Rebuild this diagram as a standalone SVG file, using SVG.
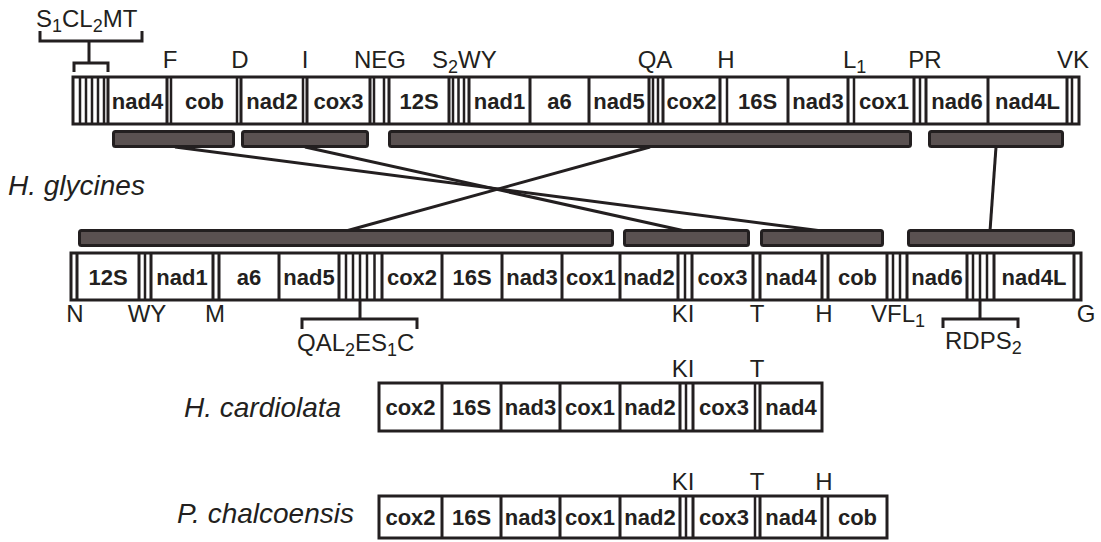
<svg xmlns="http://www.w3.org/2000/svg" width="1101" height="542" viewBox="0 0 1101 542">
<style>
.box{fill:#fff;stroke:#231f20;stroke-width:3}
.dv{stroke:#231f20;stroke-width:3;fill:none}
.tr{stroke:#231f20;stroke-width:2.5;fill:none}
.bar{fill:#5a5151;stroke:#231f20;stroke-width:3}
.conn{stroke:#231f20;stroke-width:3;fill:none}
.brk{stroke:#231f20;stroke-width:3;fill:none}
.g{font-family:"Liberation Sans",Arial,sans-serif;font-weight:bold;font-size:22px;fill:#231f20;text-anchor:middle}
.l{font-family:"Liberation Sans",Arial,sans-serif;font-size:24px;fill:#231f20}
.c{text-anchor:middle}
.sp{font-family:"Liberation Sans",Arial,sans-serif;font-style:italic;font-size:28px;fill:#231f20}
.sub{font-size:18px}
</style>
<rect width="1101" height="542" fill="#fff"/>

<!-- Top row: H. glycines reference order -->
<g id="row-top">
<rect class="box" x="73" y="77" width="1006" height="47"/>
<path class="tr" d="M80 77V124M86 77V124M92 77V124M98 77V124M104 77V124M171 77V124M237 77V124M303 77V124M374 77V124M384 77V124M453 77V124M458.5 77V124M464 77V124M653 77V124M658 77V124M727 77V124M854 77V124M920 77V124M1072 77V124"/>
<path class="dv" d="M108 77V124M167 77V124M241 77V124M307 77V124M370 77V124M389 77V124M449 77V124M469 77V124M530 77V124M589 77V124M649 77V124M663 77V124M720 77V124M788 77V124M848 77V124M914 77V124M926 77V124M988 77V124M1067 77V124"/>
<text class="g" x="137.5" y="109">nad4</text>
<text class="g" x="204.5" y="109">cob</text>
<text class="g" x="272" y="109">nad2</text>
<text class="g" x="338.5" y="109">cox3</text>
<text class="g" x="419" y="109">12S</text>
<text class="g" x="499.5" y="109">nad1</text>
<text class="g" x="559.5" y="109">a6</text>
<text class="g" x="619" y="109">nad5</text>
<text class="g" x="691.5" y="109">cox2</text>
<text class="g" x="757.5" y="109">16S</text>
<text class="g" x="818" y="109">nad3</text>
<text class="g" x="884" y="109">cox1</text>
<text class="g" x="957" y="109">nad6</text>
<text class="g" x="1027.5" y="109">nad4L</text>
</g>

<g id="labels-top">
<text class="l" x="36" y="27">S<tspan class="sub" dy="5">1</tspan><tspan dy="-5">CL</tspan><tspan class="sub" dy="5">2</tspan><tspan dy="-5">MT</tspan></text>
<path class="brk" d="M40 31V41H142V31M89 41V63M74 72V63H108V72"/>
<text class="l c" x="170" y="68">F</text>
<text class="l c" x="240" y="68">D</text>
<text class="l c" x="305" y="68">I</text>
<text class="l c" x="380" y="68">NEG</text>
<text class="l" x="432" y="68">S<tspan class="sub" dy="5">2</tspan><tspan dy="-5">WY</tspan></text>
<text class="l c" x="655" y="68">QA</text>
<text class="l c" x="726" y="68">H</text>
<text class="l" x="843" y="68">L<tspan class="sub" dy="5">1</tspan></text>
<text class="l c" x="925" y="68">PR</text>
<text class="l c" x="1073" y="68">VK</text>
</g>

<g id="blocks-top">
<rect class="bar" x="113.5" y="131.5" width="120" height="15" rx="2"/>
<rect class="bar" x="242.5" y="131.5" width="125" height="15" rx="2"/>
<rect class="bar" x="389.5" y="131.5" width="521" height="15" rx="2"/>
<rect class="bar" x="929.5" y="131.5" width="133" height="15" rx="2"/>
</g>

<text id="label-hglycines" class="sp" x="8" y="195">H. glycines</text>

<g id="connectors">
<line class="conn" x1="175" y1="147" x2="822" y2="231"/>
<line class="conn" x1="305" y1="147" x2="685" y2="231"/>
<line class="conn" x1="650" y1="147" x2="346" y2="231"/>
<line class="conn" x1="996" y1="147" x2="990" y2="231"/>
</g>

<g id="blocks-bottom">
<rect class="bar" x="79.5" y="230.5" width="533" height="15" rx="2"/>
<rect class="bar" x="624.5" y="230.5" width="124" height="15" rx="2"/>
<rect class="bar" x="761.5" y="230.5" width="121" height="15" rx="2"/>
<rect class="bar" x="908.5" y="230.5" width="165" height="15" rx="2"/>
</g>

<!-- Bottom row: H. glycines -->
<g id="row-bottom">
<rect class="box" x="71" y="253" width="1010" height="47"/>
<path class="tr" d="M145 253V300M346 253V300M353 253V300M360 253V300M367 253V300M374.5 253V300M685 253V300M893 253V300M900 253V300M973 253V300M980 253V300M987 253V300"/>
<path class="dv" d="M77 253V300M139 253V300M151 253V300M213 253V300M219 253V300M279 253V300M339 253V300M382 253V300M442 253V300M502 253V300M562 253V300M620 253V300M678 253V300M692 253V300M753 253V300M760 253V300M822 253V300M828 253V300M887 253V300M907 253V300M967 253V300M994 253V300M1074 253V300"/>
<text class="g" x="108" y="285">12S</text>
<text class="g" x="182" y="285">nad1</text>
<text class="g" x="249" y="285">a6</text>
<text class="g" x="309" y="285">nad5</text>
<text class="g" x="412" y="285">cox2</text>
<text class="g" x="472" y="285">16S</text>
<text class="g" x="532" y="285">nad3</text>
<text class="g" x="591" y="285">cox1</text>
<text class="g" x="649" y="285">nad2</text>
<text class="g" x="722.5" y="285">cox3</text>
<text class="g" x="791" y="285">nad4</text>
<text class="g" x="857.5" y="285">cob</text>
<text class="g" x="937" y="285">nad6</text>
<text class="g" x="1034" y="285">nad4L</text>
</g>

<g id="labels-bottom">
<text class="l c" x="75" y="322">N</text>
<text class="l c" x="147" y="322">WY</text>
<text class="l c" x="215" y="322">M</text>
<text class="l c" x="683" y="322">KI</text>
<text class="l c" x="757" y="322">T</text>
<text class="l c" x="824" y="322">H</text>
<text class="l" x="871" y="322">VFL<tspan class="sub" dy="5">1</tspan></text>
<text class="l c" x="1086" y="322">G</text>
<path class="brk" d="M360 300V319M302 329V319H417V329"/>
<text class="l" x="297" y="351">QAL<tspan class="sub" dy="5">2</tspan><tspan dy="-5">ES</tspan><tspan class="sub" dy="5">1</tspan><tspan dy="-5">C</tspan></text>
<path class="brk" d="M980 300V319M943 328V319H1018V328"/>
<text class="l" x="945" y="349">RDPS<tspan class="sub" dy="5">2</tspan></text>
</g>

<!-- H. cardiolata -->
<text id="label-hcardiolata" class="sp" x="184" y="417">H. cardiolata</text>
<g id="row-hcardiolata">
<rect class="box" x="379" y="383" width="443" height="48"/>
<path class="tr" d="M686 383V431M755 383V431"/>
<path class="dv" d="M442 383V431M501 383V431M560 383V431M620 383V431M680 383V431M693 383V431M760 383V431"/>
<text class="g" x="410.5" y="415">cox2</text>
<text class="g" x="471.5" y="415">16S</text>
<text class="g" x="530.5" y="415">nad3</text>
<text class="g" x="590" y="415">cox1</text>
<text class="g" x="650" y="415">nad2</text>
<text class="g" x="724" y="415">cox3</text>
<text class="g" x="791" y="415">nad4</text>
<text class="l c" x="683" y="377">KI</text>
<text class="l c" x="757" y="377">T</text>
</g>

<!-- P. chalcoensis -->
<text id="label-pchalcoensis" class="sp" x="177" y="523">P. chalcoensis</text>
<g id="row-pchalcoensis">
<rect class="box" x="379" y="496" width="508" height="42"/>
<path class="tr" d="M686 496V538M755 496V538M828 496V538"/>
<path class="dv" d="M442 496V538M501 496V538M560 496V538M620 496V538M680 496V538M693 496V538M760 496V538M822 496V538"/>
<text class="g" x="410.5" y="525">cox2</text>
<text class="g" x="471.5" y="525">16S</text>
<text class="g" x="530.5" y="525">nad3</text>
<text class="g" x="590" y="525">cox1</text>
<text class="g" x="650" y="525">nad2</text>
<text class="g" x="724" y="525">cox3</text>
<text class="g" x="791" y="525">nad4</text>
<text class="g" x="857.5" y="525">cob</text>
<text class="l c" x="683" y="490">KI</text>
<text class="l c" x="757" y="490">T</text>
<text class="l c" x="824" y="490">H</text>
</g>
</svg>
